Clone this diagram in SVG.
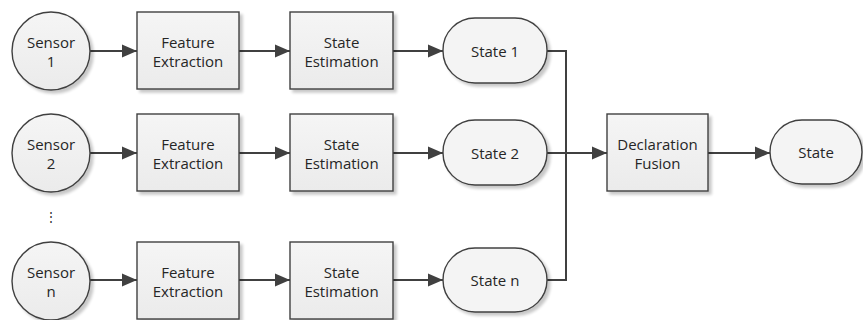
<svg xmlns="http://www.w3.org/2000/svg" width="863" height="320" viewBox="0 0 863 320">
  <defs>
    <linearGradient id="fillGrad" x1="0" y1="0" x2="0" y2="1">
      <stop offset="0" stop-color="#f5f5f5"/>
      <stop offset="1" stop-color="#ebebeb"/>
    </linearGradient>
    <filter id="shadow" x="-20%" y="-20%" width="150%" height="150%">
      <feGaussianBlur in="SourceAlpha" stdDeviation="1.5"/>
      <feOffset dx="3" dy="3" result="b"/>
      <feComponentTransfer><feFuncA type="linear" slope="0.22"/></feComponentTransfer>
      <feMerge><feMergeNode/><feMergeNode in="SourceGraphic"/></feMerge>
    </filter>
    <marker id="arrow" markerWidth="16" markerHeight="14" refX="15" refY="7" orient="auto" markerUnits="userSpaceOnUse">
      <path d="M0,0.5 L15,7 L0,13.5 Z" fill="#404040"/>
    </marker>
  </defs>
  <style>
    .shape { fill: url(#fillGrad); stroke: #404040; stroke-width: 1.4; filter: url(#shadow); }
    .term { fill: #f4f4f4; stroke: #404040; stroke-width: 1.4; filter: url(#shadow); }
    .label { font-family: "Open Sans", "Liberation Sans", sans-serif; font-size: 15px; fill: #262626; text-anchor: middle; }
    .wire { fill: none; stroke: #404040; stroke-width: 2; }
  </style>

  <!-- connectors -->
  <g id="connectors">
    <line class="wire" x1="90" y1="51" x2="137" y2="51" marker-end="url(#arrow)"/>
    <line class="wire" x1="239" y1="51" x2="290" y2="51" marker-end="url(#arrow)"/>
    <line class="wire" x1="393" y1="51" x2="443" y2="51" marker-end="url(#arrow)"/>
    <line class="wire" x1="90" y1="153" x2="137" y2="153" marker-end="url(#arrow)"/>
    <line class="wire" x1="239" y1="153" x2="290" y2="153" marker-end="url(#arrow)"/>
    <line class="wire" x1="393" y1="153" x2="443" y2="153" marker-end="url(#arrow)"/>
    <line class="wire" x1="90" y1="280" x2="137" y2="280" marker-end="url(#arrow)"/>
    <line class="wire" x1="239" y1="280" x2="290" y2="280" marker-end="url(#arrow)"/>
    <line class="wire" x1="393" y1="280" x2="443" y2="280" marker-end="url(#arrow)"/>
    <polyline class="wire" points="547,51 566,51 566,280 547,280"/>
    <line class="wire" x1="547" y1="153" x2="607" y2="153" marker-end="url(#arrow)"/>
    <line class="wire" x1="708" y1="153" x2="770" y2="153" marker-end="url(#arrow)"/>
  </g>

  <!-- row 1 -->
  <g id="sensor1">
    <circle class="shape" cx="51" cy="51" r="39"/>
    <text class="label" x="51" y="48">Sensor</text>
    <text class="label" x="51" y="67">1</text>
  </g>
  <g id="feature1">
    <rect class="shape" x="137" y="12" width="102" height="77"/>
    <text class="label" x="188" y="48">Feature</text>
    <text class="label" x="188" y="67">Extraction</text>
  </g>
  <g id="estimation1">
    <rect class="shape" x="290" y="12" width="103" height="77"/>
    <text class="label" x="341.5" y="48">State</text>
    <text class="label" x="341.5" y="67">Estimation</text>
  </g>
  <g id="state1">
    <rect class="term" x="443" y="18" width="104" height="65" rx="32" ry="32"/>
    <text class="label" x="495" y="57">State 1</text>
  </g>

  <!-- row 2 -->
  <g id="sensor2">
    <circle class="shape" cx="51" cy="153" r="39"/>
    <text class="label" x="51" y="150">Sensor</text>
    <text class="label" x="51" y="169">2</text>
  </g>
  <g id="feature2">
    <rect class="shape" x="137" y="114" width="102" height="77"/>
    <text class="label" x="188" y="150">Feature</text>
    <text class="label" x="188" y="169">Extraction</text>
  </g>
  <g id="estimation2">
    <rect class="shape" x="290" y="114" width="103" height="77"/>
    <text class="label" x="341.5" y="150">State</text>
    <text class="label" x="341.5" y="169">Estimation</text>
  </g>
  <g id="state2">
    <rect class="term" x="443" y="120" width="104" height="65" rx="32" ry="32"/>
    <text class="label" x="495" y="159">State 2</text>
  </g>

  <!-- vertical ellipsis between rows -->
  <g id="ellipsis">
    <text class="label" x="51" y="221" style="font-size:12px">⋮</text>
  </g>

  <!-- row n -->
  <g id="sensorn">
    <circle class="shape" cx="51" cy="281" r="39"/>
    <text class="label" x="51" y="278">Sensor</text>
    <text class="label" x="51" y="297">n</text>
  </g>
  <g id="featuren">
    <rect class="shape" x="137" y="242" width="102" height="77"/>
    <text class="label" x="188" y="278">Feature</text>
    <text class="label" x="188" y="297">Extraction</text>
  </g>
  <g id="estimationn">
    <rect class="shape" x="290" y="242" width="103" height="77"/>
    <text class="label" x="341.5" y="278">State</text>
    <text class="label" x="341.5" y="297">Estimation</text>
  </g>
  <g id="staten">
    <rect class="term" x="443" y="248" width="104" height="64" rx="32" ry="32"/>
    <text class="label" x="495" y="286">State n</text>
  </g>

  <!-- fusion and output -->
  <g id="fusion">
    <rect class="shape" x="607" y="114" width="101" height="77"/>
    <text class="label" x="657.5" y="150">Declaration</text>
    <text class="label" x="657.5" y="169">Fusion</text>
  </g>
  <g id="output">
    <rect class="term" x="770" y="120" width="92" height="64" rx="32" ry="32"/>
    <text class="label" x="816" y="158">State</text>
  </g>
</svg>
